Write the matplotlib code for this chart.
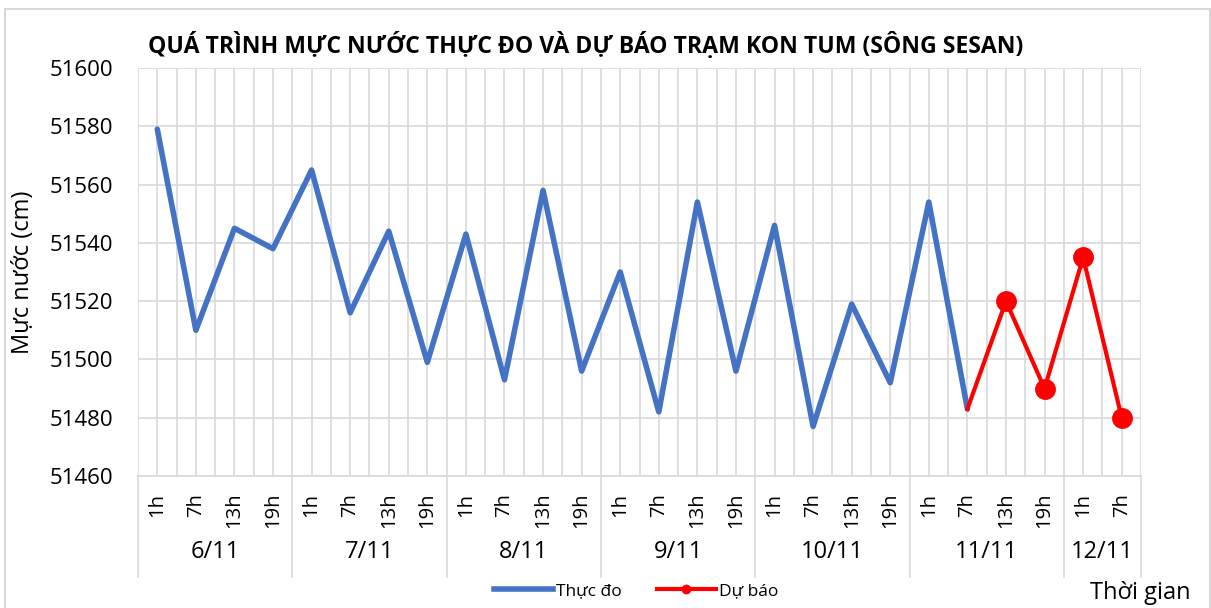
import matplotlib.pyplot as plt
from matplotlib.lines import Line2D
from matplotlib.patches import Rectangle
import matplotlib.transforms as mtransforms

plt.rcParams['font.family'] = ['Open Sans', 'DejaVu Sans']

# Ngày và giờ quan trắc
days = ["6/11", "7/11", "8/11", "9/11", "10/11", "11/11", "12/11"]
hours_per_day = [["1h", "7h", "13h", "19h"]] * 6 + [["1h", "7h"]]
hour_labels = [h for hs in hours_per_day for h in hs]

# Mực nước thực đo (cm), từ 1h 6/11 đến 7h 11/11
observed = [51579, 51510, 51545, 51538,
            51565, 51516, 51544, 51499,
            51543, 51493, 51558, 51496,
            51530, 51482, 51554, 51496,
            51546, 51477, 51519, 51492,
            51554, 51483]
# Mực nước dự báo (cm), từ 7h 11/11 đến 7h 12/11
forecast = [51483, 51520, 51490, 51535, 51480]

W, H = 1211, 608
fig = plt.figure(figsize=(W / 100, H / 100), dpi=100)
L, R, T, B = 138, 1141, 68, 476
ax = fig.add_axes([L / W, 1 - B / H, (R - L) / W, (B - T) / H])

n = len(hour_labels)
x_obs = list(range(len(observed)))
x_fc = list(range(len(observed) - 1, len(observed) - 1 + len(forecast)))

ax.plot(x_obs, observed, color="#4472C4", lw=4.0, solid_capstyle="round", zorder=3)
ax.plot(x_fc, forecast, color="#FF0000", lw=3.0, zorder=4)
ax.plot(x_fc[1:], forecast[1:], "o", color="#FF0000", ms=14, zorder=5)

ax.set_xlim(-0.5, n - 0.5)
ax.set_ylim(51460, 51600)
ax.set_yticks(range(51460, 51601, 20))
ax.set_xticks(range(n))
ax.set_xticklabels(hour_labels, rotation=90, fontsize=14.5)
ax.set_xticks([i - 0.5 for i in range(n + 1)], minor=True)
ax.tick_params(axis="x", which="both", length=0, pad=12)
ax.tick_params(axis="y", length=0, labelsize=16, pad=18)
ax.grid(True, which="major", color="#D9D9D9", lw=1.2)
ax.grid(True, which="minor", axis="x", color="#D9D9D9", lw=1.2)
ax.set_axisbelow(True)
for s in ["left", "right", "top"]:
    ax.spines[s].set_visible(False)
ax.spines["bottom"].set_color("#D9D9D9")
ax.spines["bottom"].set_linewidth(1.2)

ax.set_ylabel("Mực nước (cm)", fontsize=17)
ax.yaxis.set_label_coords((35 - L) / (R - L), 0.5)

# Nhóm ngày bên dưới trục
trans = mtransforms.blended_transform_factory(ax.transData, ax.transAxes)
y_sep = (B - 577) / (B - T)
y_day = (B - 552) / (B - T)
start = -0.5
ax.plot([start, start], [0, y_sep], color="#D9D9D9", lw=1.2, transform=trans, clip_on=False)
for d, hs in zip(days, hours_per_day):
    end = start + len(hs)
    ax.plot([end, end], [0, y_sep], color="#D9D9D9", lw=1.2, transform=trans, clip_on=False)
    ax.text((start + end) / 2, y_day, d, transform=trans, ha="center", va="center", fontsize=17)
    start = end

fig.text(148 / W, 1 - 45 / H, "QUÁ TRÌNH MỰC NƯỚC THỰC ĐO VÀ DỰ BÁO TRẠM KON TUM (SÔNG SESAN)",
         ha="left", va="center", fontsize=16.6, fontweight="bold")

handles = [Line2D([], [], color="#4472C4", lw=4.0),
           Line2D([], [], color="#FF0000", lw=3.0, marker="o", ms=6)]
fig.legend(handles, ["Thực đo", "Dự báo"], loc="center", bbox_to_anchor=(636 / W, 1 - 591 / H),
           ncol=2, frameon=False, fontsize=12.5, handlelength=3.4, handletextpad=0.2, columnspacing=2.0)
fig.text(1140 / W, 1 - 593 / H, "Thời gian", ha="center", va="center", fontsize=17)

fig.patches.append(Rectangle((5 / W, -0.05), (1210 - 5) / W, 1.05 - 9 / H, transform=fig.transFigure,
                             fill=False, edgecolor="#D9D9D9", lw=1.5))

fig.savefig("out.png", dpi=100)
